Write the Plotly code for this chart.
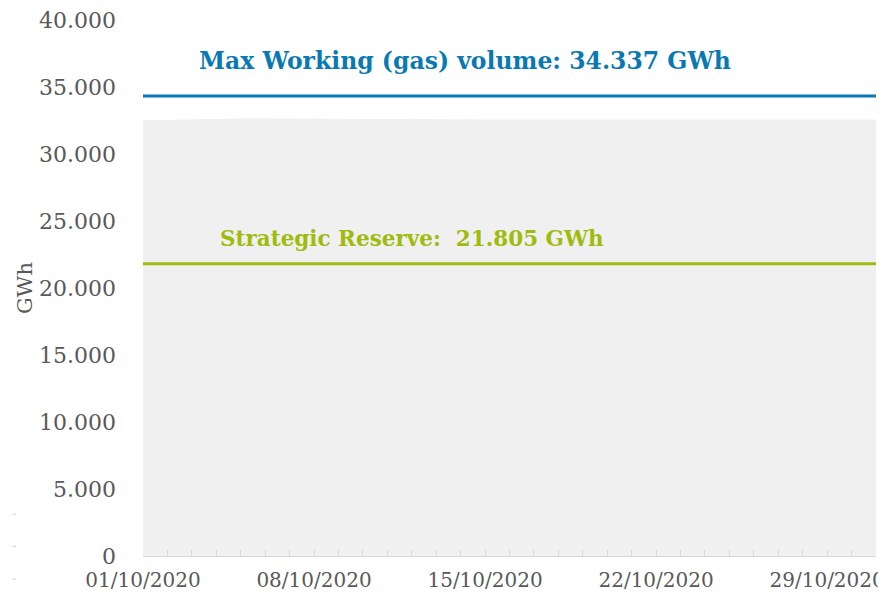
import plotly.graph_objects as go
import pandas as pd

dates = pd.date_range("2020-10-01", "2020-10-31", freq="D")
stored_gwh = [32520, 32560, 32600, 32630, 32640, 32640, 32630, 32620, 32610, 32600,
              32600, 32590, 32590, 32580, 32580, 32580, 32570, 32570, 32570, 32570,
              32570, 32570, 32570, 32570, 32570, 32570, 32570, 32570, 32570, 32570, 32570]
max_working_volume = 34337
strategic_reserve = 21805
tick_dates = ["2020-10-01", "2020-10-08", "2020-10-15", "2020-10-22", "2020-10-29"]
tick_labels = ["01/10/2020", "08/10/2020", "15/10/2020", "22/10/2020", "29/10/2020"]

def fmt(v):
    return f"{v:,}".replace(",", ".")

SERIF = "DejaVu Serif"
BLUE = "#0a79b3"
GREEN = "#9fbb0c"

fig = go.Figure()
fig.add_trace(go.Scatter(x=dates, y=stored_gwh, mode="lines", line=dict(width=0),
                         fill="tozeroy", fillcolor="#f0f0f0", hoverinfo="skip"))
fig.add_trace(go.Scatter(x=dates, y=[max_working_volume] * len(dates), mode="lines",
                         line=dict(color=BLUE, width=3)))
fig.add_trace(go.Scatter(x=dates, y=[strategic_reserve] * len(dates), mode="lines",
                         line=dict(color=GREEN, width=3)))

fig.add_annotation(x="2020-10-03 05:00", y=max_working_volume, yshift=35, xanchor="left",
                   yanchor="middle", showarrow=False,
                   text=f"<b>Max Working (gas) volume: {fmt(max_working_volume)} GWh</b>",
                   font=dict(family=SERIF, size=23.5, color=BLUE))
fig.add_annotation(x="2020-10-04 02:00", y=strategic_reserve, yshift=25, xanchor="left",
                   yanchor="middle", showarrow=False,
                   text=f"<b>Strategic Reserve:  {fmt(strategic_reserve)} GWh</b>",
                   font=dict(family=SERIF, size=21.5, color=GREEN))

for yy in [0.078, 0.018, -0.043]:
    fig.add_shape(type="line", xref="paper", yref="paper", x0=-0.2, x1=-0.17, y0=yy, y1=yy,
                  line=dict(color="#d0d0d0", width=1, dash="4px,4px"))

# page body adds an 8px margin; size the figure so the page does not overflow
# the window and the plot lands at the reference pixels
fig.update_layout(
    width=878, height=585,
    margin=dict(l=135, r=10, t=12, b=37),
    paper_bgcolor="white", plot_bgcolor="white",
    showlegend=False,
    separators=",.",
    font=dict(family=SERIF, color="#595959", size=18),
    xaxis=dict(
        range=["2020-10-01", "2020-10-31"],
        automargin=False,
        tickvals=tick_dates, ticktext=tick_labels,
        ticks="inside", ticklen=6, tickcolor="#d9d9d9",
        showline=True, linecolor="#d9d9d9", linewidth=1,
        showgrid=False, zeroline=False,
        ticklabelstandoff=6, ticklabeloverflow="allow",
        minor=dict(dtick=86400000, tick0="2020-10-01", ticks="inside", ticklen=6,
                   tickcolor="#d9d9d9", showgrid=False),
        tickfont=dict(family=SERIF, size=20, color="#595959"),
    ),
    yaxis=dict(
        range=[0, 40000], dtick=5000, tickformat=",d",
        automargin=False,
        showgrid=False, zeroline=False, showline=False,
        ticks="", ticklabelstandoff=26, ticklabeloverflow="allow",
        tickfont=dict(family=SERIF, size=22, color="#595959"),
        title=dict(text="GWh", standoff=0, font=dict(family=SERIF, size=21, color="#595959")),
    ),
)
fig.write_html("out.html")
